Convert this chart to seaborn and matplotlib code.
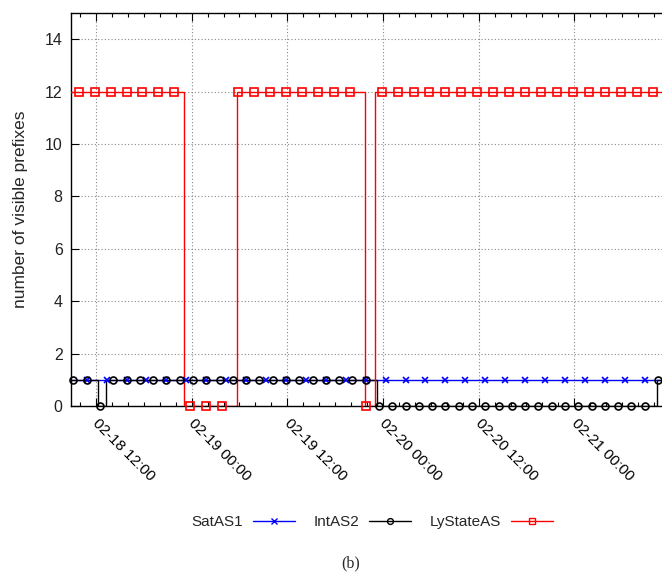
import numpy as np
import pandas as pd
import matplotlib
matplotlib.use("Agg")
import matplotlib.pyplot as plt
import matplotlib.dates as mdates
import matplotlib.transforms as mtransforms
from matplotlib.ticker import MultipleLocator
import seaborn as sns

# Step series: times where the value changes, and the value from that time on
satas1_times = ["2013-02-18 08:00"]
satas1_vals = [1]

intas2_times = ["2013-02-18 08:00", "2013-02-18 12:13", "2013-02-18 13:13",
                "2013-02-19 23:14", "2013-02-21 10:20"]
intas2_vals = [1, 0, 1, 0, 1]

lystate_times = ["2013-02-18 08:00", "2013-02-18 23:05", "2013-02-19 05:45",
                 "2013-02-19 21:45", "2013-02-19 23:01"]
lystate_vals = [12, 0, 12, 0, 12]

series_names = ["SatAS1", "IntAS2", "LyStateAS"]

# Marker sampling (first marker, spacing, count) for each series
marker_start = {"SatAS1": "2013-02-18 10:50", "IntAS2": "2013-02-18 09:10",
                "LyStateAS": "2013-02-18 09:50"}
marker_step = {"SatAS1": "150min", "IntAS2": "100min", "LyStateAS": "120min"}
marker_count = {"SatAS1": 29, "IntAS2": 45, "LyStateAS": 37}

x_start = "2013-02-18 08:52"
x_end = "2013-02-21 11:00"

sns.set_theme(style="white")
plt.rcParams["font.family"] = ["Liberation Sans", "DejaVu Sans"]

fig = plt.figure(figsize=(6.62, 5.74), dpi=100)
ax = fig.add_axes([71 / 662, 1 - 406 / 574, 1 - 71 / 662, (406 - 13) / 574])

series = {
    "SatAS1": (satas1_times, satas1_vals, "#0000ff", "x", 4.8, 1.0),
    "IntAS2": (intas2_times, intas2_vals, "#000000", "o", 5.0, 1.0),
    "LyStateAS": (lystate_times, lystate_vals, "#ff0000", "s", 5.2, 1.0),
}

end_t = pd.Timestamp("2013-02-21 12:00")
handles = []
for name in series_names:
    times, vals, color, marker, ms, lw = series[name]
    t = pd.to_datetime(times)
    # Extend the last level to the right edge
    df = pd.DataFrame({"time": list(t) + [end_t], "value": list(vals) + [vals[-1]]})
    sns.lineplot(data=df, x="time", y="value", ax=ax, color=color, lw=lw,
                 drawstyle="steps-post", estimator=None, zorder=3)
    mt = pd.date_range(marker_start[name], periods=marker_count[name],
                       freq=marker_step[name])
    idx = np.searchsorted(t.values, mt.values, side="right") - 1
    mv = np.asarray(vals)[idx]
    ax.plot(mt, mv, ls="none", marker=marker, ms=ms, mfc="none", mec=color,
            mew=1.2, color=color, zorder=4, clip_on=False)
    h, = ax.plot([], [], color=color, lw=lw, marker=marker, ms=ms - 0.8,
                 mfc="none", mec=color, mew=1.0)
    handles.append(h)

ax.set_xlim(pd.Timestamp(x_start), pd.Timestamp(x_end))
ax.set_ylim(0, 15)
ax.yaxis.set_major_locator(MultipleLocator(2))
ax.xaxis.set_major_locator(mdates.HourLocator(byhour=[0, 12]))
ax.xaxis.set_minor_locator(mdates.HourLocator(interval=2))
ax.xaxis.set_major_formatter(mdates.DateFormatter("%m-%d %H:%M"))

ax.grid(True, which="major", color="#888888", ls=(0, (1, 2)), lw=0.8)
ax.set_axisbelow(True)
for s in ["left", "bottom", "top"]:
    ax.spines[s].set_color("black")
    ax.spines[s].set_linewidth(1.0)
ax.spines["right"].set_visible(False)

ax.tick_params(axis="both", which="both", direction="in", colors="black",
               top=True, left=True, bottom=True)
ax.tick_params(axis="y", labelsize=11.5, pad=6)
ax.tick_params(axis="x", labelsize=11)
ax.tick_params(axis="both", which="major", length=6, width=0.8)
ax.tick_params(axis="x", which="minor", length=3, width=0.8)
ax.tick_params(axis="x", which="major", pad=7)
shift = mtransforms.ScaledTranslation(4 / 100, 0, fig.dpi_scale_trans)
for lab in ax.get_xticklabels():
    lab.set_rotation(-45)
    lab.set_ha("left")
    lab.set_va("top")
    lab.set_rotation_mode("anchor")
    lab.set_transform(lab.get_transform() + shift)
for lab in ax.get_yticklabels():
    lab.set_color("#222222")

ax.set_xlabel("")
ax.set_ylabel("number of visible prefixes", fontsize=12.5, labelpad=12)

fig.legend(handles, series_names, loc="center", bbox_to_anchor=(0.562, 1 - 522 / 574),
           ncol=3, frameon=False, markerfirst=False, fontsize=11,
           handlelength=2.75, columnspacing=1.2, handletextpad=0.65)

fig.text(0.529, 1 - 563 / 574, "(b)", ha="center", va="center", fontsize=11.5,
         family=["Liberation Serif", "DejaVu Serif"])

fig.savefig("out.png", dpi=100)
